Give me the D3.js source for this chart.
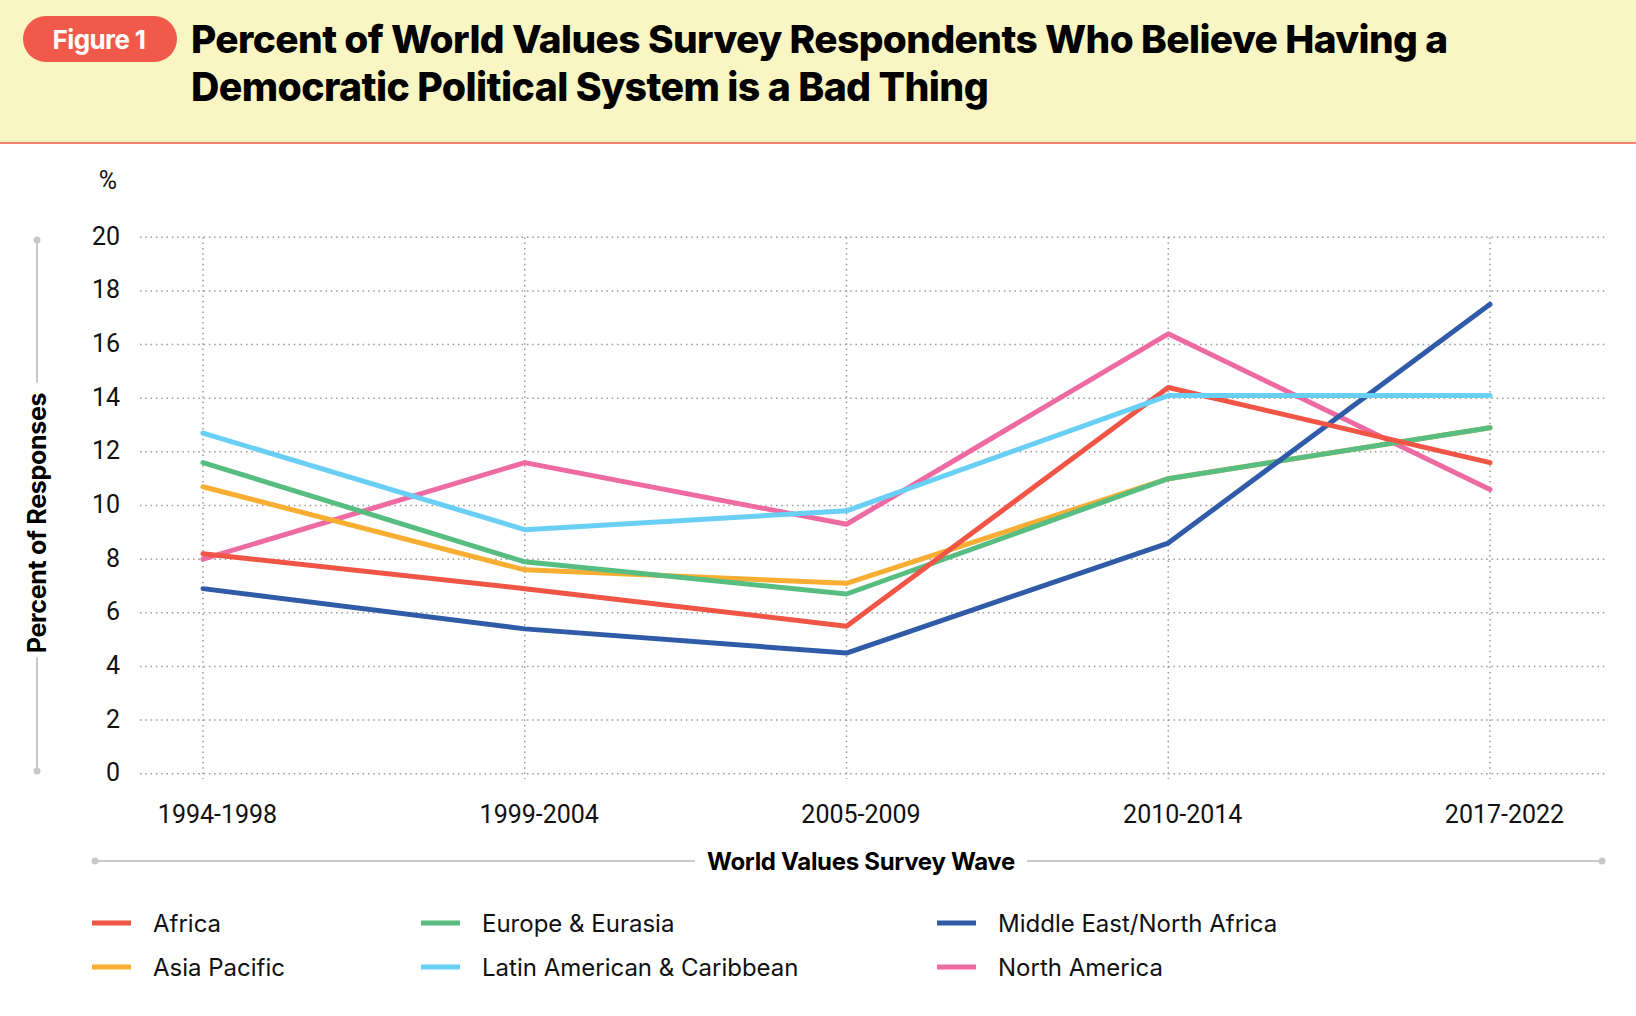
<!DOCTYPE html>
<html>
<head>
<meta charset="utf-8">
<script src="https://cdn.jsdelivr.net/npm/d3@7"></script>
<style>
  body { margin: 0; background: #fff; }
  svg { display: block; }
</style>
</head>
<body>
<svg id="chart"></svg>
<script>
var waves = ["1994-1998", "1999-2004", "2005-2009", "2010-2014", "2017-2022"];
var yTicks = [0, 2, 4, 6, 8, 10, 12, 14, 16, 18, 20];

var regionNames = [
  "Africa",
  "Asia Pacific",
  "Europe & Eurasia",
  "Latin American & Caribbean",
  "Middle East/North Africa",
  "North America",
];
var africa = [8.2, 6.9, 5.5, 14.4, 11.6];
var asiaPacific = [10.7, 7.6, 7.1, 11.0, 12.9];
var europeEurasia = [11.6, 7.9, 6.7, 11.0, 12.9];
var latinAmerica = [12.7, 9.1, 9.8, 14.1, 14.1];
var menaRegion = [6.9, 5.4, 4.5, 8.6, 17.5];
var northAmerica = [8.0, 11.6, 9.3, 16.4, 10.6];

var regionColors = ["#f05546", "#f8ae33", "#57bd80", "#69cff5", "#2f5ba8", "#ee6aa2"];

var titleLines = [
  "Percent of World Values Survey Respondents Who Believe Having a",
  "Democratic Political System is a Bad Thing",
];

var W = 1636, H = 1016;
var svg = d3.select("#chart").attr("width", W).attr("height", H);

// header band
svg.append("rect").attr("x", 0).attr("y", 0).attr("width", W).attr("height", 142).attr("fill", "#faf6c4");
svg.append("line").attr("x1", 0).attr("x2", W).attr("y1", 143).attr("y2", 143)
  .attr("stroke", "#f1846e").attr("stroke-width", 2);

svg.append("rect").attr("x", 23).attr("y", 16).attr("width", 154).attr("height", 46).attr("rx", 23)
  .attr("fill", "#f15a4a");
svg.append("text").attr("x", 99).attr("y", 48.5).attr("text-anchor", "middle")
  .attr("fill", "#fff").style("font", "700 26px Inter").style("letter-spacing", "-0.6px").text("Figure 1");

// title: size each line so it spans the same width as the reference
var titleWidths = [1254, 795];
titleLines.forEach(function (t, i) {
  var el = svg.append("text").attr("x", 191).attr("y", 53 + i * 48)
    .attr("fill", "#000").style("font", "800 36px Inter").style("letter-spacing", "-0.6px").text(t);
  var len = el.node().getComputedTextLength();
  var size = Math.min(40, 36 * titleWidths[i] / len);
  el.style("font-size", size + "px");
});

// chart area
var x = d3.scalePoint().domain(waves).range([203, 1490]);
var y = d3.scaleLinear().domain([0, 20]).range([773.7, 237.3]);

var grid = svg.append("g");
grid.selectAll(".hgrid").data(yTicks).enter().append("line")
  .attr("x1", 140).attr("x2", 1607)
  .attr("y1", function (d) { return y(d); }).attr("y2", function (d) { return y(d); })
  .attr("stroke", "#9a9a9a").attr("stroke-width", 1.5).attr("stroke-dasharray", "1.5,3.8");
grid.selectAll(".vgrid").data(waves).enter().append("line")
  .attr("x1", function (d) { return x(d); }).attr("x2", function (d) { return x(d); })
  .attr("y1", y(20)).attr("y2", 779)
  .attr("stroke", "#9a9a9a").attr("stroke-width", 1.5).attr("stroke-dasharray", "1.5,3.8");

var yAxis = svg.append("g").attr("transform", "translate(120,0)")
  .call(d3.axisLeft(y).tickValues(yTicks).tickSize(0).tickPadding(0));
yAxis.select(".domain").remove();
yAxis.selectAll("text").style("font", "400 25px Roboto").attr("fill", "#111").attr("dy", "0.28em");

var xAxis = svg.append("g").attr("transform", "translate(14,823)")
  .call(d3.axisBottom(x).tickSize(0).tickPadding(0));
xAxis.select(".domain").remove();
xAxis.selectAll("text").style("font", "400 25px Roboto").attr("fill", "#111").attr("dy", 0).attr("y", 0);

svg.append("text").attr("x", 108).attr("y", 189).attr("text-anchor", "middle")
  .style("font", "400 25px Roboto").attr("fill", "#111").text("%");

// axis titles with gray rule lines
var yTitle = svg.append("text").attr("transform", "translate(46,523) rotate(-90)")
  .attr("text-anchor", "middle").style("font", "700 25px Inter").style("letter-spacing", "-0.3px")
  .attr("fill", "#000").text("Percent of Responses");
var yHalf = yTitle.node().getComputedTextLength() / 2;
var rule = "#c8c8c8";
svg.append("line").attr("x1", 37).attr("x2", 37).attr("y1", 240).attr("y2", 523 - yHalf - 10)
  .attr("stroke", rule).attr("stroke-width", 2);
svg.append("line").attr("x1", 37).attr("x2", 37).attr("y1", 523 + yHalf + 4).attr("y2", 771)
  .attr("stroke", rule).attr("stroke-width", 2);
svg.append("circle").attr("cx", 37).attr("cy", 240).attr("r", 3.5).attr("fill", rule);
svg.append("circle").attr("cx", 37).attr("cy", 771).attr("r", 3.5).attr("fill", rule);

var xTitle = svg.append("text").attr("x", 861).attr("y", 870).attr("text-anchor", "middle")
  .style("font", "700 24px Inter").style("letter-spacing", "-0.3px")
  .attr("fill", "#000").text("World Values Survey Wave");
var xHalf = xTitle.node().getComputedTextLength() / 2;
svg.append("line").attr("x1", 95).attr("x2", 861 - xHalf - 12).attr("y1", 861).attr("y2", 861)
  .attr("stroke", rule).attr("stroke-width", 2);
svg.append("line").attr("x1", 861 + xHalf + 12).attr("x2", 1602).attr("y1", 861).attr("y2", 861)
  .attr("stroke", rule).attr("stroke-width", 2);
svg.append("circle").attr("cx", 95).attr("cy", 861).attr("r", 3.5).attr("fill", rule);
svg.append("circle").attr("cx", 1602).attr("cy", 861).attr("r", 3.5).attr("fill", rule);

// lines
var series = [
  { name: regionNames[5], values: northAmerica, color: regionColors[5] },
  { name: regionNames[1], values: asiaPacific, color: regionColors[1] },
  { name: regionNames[2], values: europeEurasia, color: regionColors[2] },
  { name: regionNames[4], values: menaRegion, color: regionColors[4] },
  { name: regionNames[0], values: africa, color: regionColors[0] },
  { name: regionNames[3], values: latinAmerica, color: regionColors[3] },
];

var line = d3.line()
  .x(function (d, i) { return x(waves[i]); })
  .y(function (d) { return y(d); });

svg.append("g").selectAll("path").data(series).enter().append("path")
  .attr("d", function (d) { return line(d.values); })
  .attr("fill", "none")
  .attr("stroke", function (d) { return d.color; })
  .attr("stroke-width", 5)
  .attr("stroke-linecap", "round")
  .attr("stroke-linejoin", "round");

// legend: three columns, two rows
var legendCols = [92, 421, 937];
var legend = svg.append("g");
regionNames.forEach(function (name, i) {
  var col = Math.floor(i / 2), row = i % 2;
  var g = legend.append("g").attr("transform", "translate(" + legendCols[col] + "," + (923 + row * 44) + ")");
  g.append("rect").attr("x", 0).attr("y", -2.5).attr("width", 39).attr("height", 5).attr("fill", regionColors[i]);
  g.append("text").attr("x", 61).attr("y", 8.5).style("font", "400 24px Inter")
    .attr("fill", "#111").text(name);
});
</script>
</body>
</html>
